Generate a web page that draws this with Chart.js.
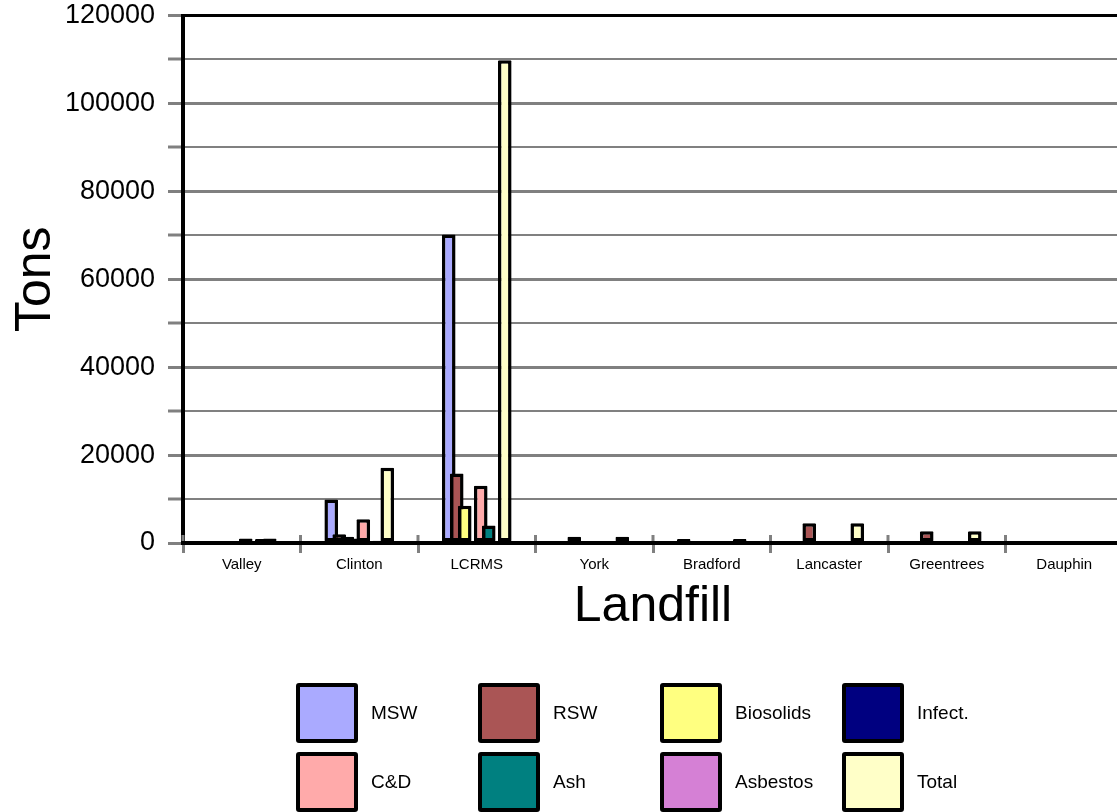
<!DOCTYPE html>
<html>
<head>
  <title>Landfill Tons</title>
  <script src="https://cdn.jsdelivr.net/npm/chart.js"></script>
  <style>
    body {
      margin: 0;
      background: #fff;
      overflow: hidden;
      width: 1117px;
      height: 812px;
      position: relative;
      font-family: 'Liberation Sans', Arial, sans-serif;
    }
    #wrap {
      position: absolute;
      left: 0;
      top: -11px;
      width: 1140px;
      height: 823px;
    }
    .legend-item {
      position: absolute;
      display: flex;
      align-items: center;
      font-size: 19px;
      color: #000;
    }
    .swatch {
      width: 54px;
      height: 52px;
      border: 4px solid #000;
      border-radius: 3px;
      margin-right: 13px;
    }
  </style>
</head>
<body>
<div id="wrap">
  <canvas id="chart" width="1140" height="823"></canvas>
</div>
<div id="legend"></div>
<script>
  // ==== Data ====
  const landfills = ['Valley', 'Clinton', 'LCRMS', 'York', 'Bradford', 'Lancaster', 'Greentrees', 'Dauphin'];
  const msw       = [300, 9900, 70200, 300, 900, 200, 200, 200];
  const rsw       = [200, 2000, 15800, 1400, 200, 4500, 2700, 200];
  const biosolids = [200, 1400, 8500, 200, 200, 200, 200, 200];
  const infect    = [300, 1000, 300, 200, 200, 200, 200, 200];
  const cd        = [1000, 5400, 13000, 200, 200, 200, 200, 200];
  const ash       = [200, 400, 4000, 200, 200, 200, 200, 200];
  const asbestos  = [900, 500, 300, 200, 200, 200, 200, 200];
  const total     = [1000, 17100, 109800, 1400, 900, 4500, 2700, 300];

  const seriesNames  = ['MSW', 'RSW', 'Biosolids', 'Infect.', 'C&D', 'Ash', 'Asbestos', 'Total'];
  const seriesData   = [msw, rsw, biosolids, infect, cd, ash, asbestos, total];
  const seriesColors = ['#AAAAFF', '#AA5555', '#FFFF80', '#000080', '#FFAAAA', '#008080', '#D580D5', '#FFFFC8'];

  const yMax = 120000;
  const yStep = 10000;

  const fontFamily = "'Liberation Sans', Arial, sans-serif";

  // later series painted over earlier ones (Excel style overlap)
  const drawForward = {
    id: 'drawForward',
    beforeDatasetsDraw(chart) {
      chart.getSortedVisibleDatasetMetas().forEach(m => m.controller.draw());
      return false;
    }
  };

  // category divider ticks also poke a little above the axis line
  const upperTicks = {
    id: 'upperTicks',
    afterDraw(chart) {
      const x = chart.scales.x, ctx = chart.ctx;
      const half = (x.getPixelForTick(1) - x.getPixelForTick(0)) / 2;
      ctx.save();
      ctx.strokeStyle = '#808080';
      ctx.lineWidth = 3;
      ctx.beginPath();
      for (let i = 0; i <= landfills.length; i++) {
        const px = x.getPixelForTick(0) - half + i * half * 2;
        ctx.moveTo(px, x.top - 8);
        ctx.lineTo(px, x.top - 2);
      }
      ctx.stroke();
      ctx.restore();
    }
  };

  new Chart(document.getElementById('chart'), {
    type: 'bar',
    data: {
      labels: landfills,
      datasets: seriesNames.map((name, i) => ({
        label: name,
        data: seriesData[i],
        backgroundColor: seriesColors[i],
        borderColor: '#000',
        borderWidth: 3.5,
        borderSkipped: false,
        borderRadius: 1,
        categoryPercentage: 0.545,
        barPercentage: 1.7
      }))
    },
    options: {
      responsive: false,
      animation: false,
      layout: { padding: { left: 6, top: 4, right: 17, bottom: 175 } },
      plugins: {
        legend: { display: false },
        tooltip: { enabled: false }
      },
      scales: {
        x: {
          z: 1,
          offset: true,
          afterFit(scale) { scale.height = 94; },
          grid: {
            offset: true,
            drawOnChartArea: false,
            drawTicks: true,
            tickLength: 10,
            color: '#808080',
            lineWidth: 3
          },
          border: { color: '#000', width: 4 },
          ticks: {
            color: '#000',
            padding: 3,
            font: { size: 15, family: fontFamily }
          },
          title: {
            display: true,
            text: 'Landfill',
            color: '#000',
            padding: { top: 4, bottom: 0 },
            font: { size: 50, family: fontFamily }
          }
        },
        y: {
          min: 0,
          max: yMax,
          afterFit(scale) { scale.width = 177; },
          grid: {
            color: ctx => (ctx.tick && ctx.tick.value === yMax) ? '#000' : '#808080',
            lineWidth: ctx => (ctx.tick && ctx.tick.value % 20000 === 0) ? 3 : 2,
            tickColor: '#808080',
            tickWidth: 3,
            tickLength: 15
          },
          border: { color: '#000', width: 4 },
          ticks: {
            stepSize: yStep,
            autoSkip: false,
            color: '#000',
            padding: 13,
            font: { size: 27, family: fontFamily, lineHeight: 1 },
            callback: v => (v % 20000 === 0 ? v : '')
          },
          title: {
            display: true,
            text: 'Tons',
            color: '#000',
            padding: 0,
            font: { size: 50, family: fontFamily }
          }
        }
      }
    },
    plugins: [drawForward, upperTicks]
  });

  // ==== Legend (4 columns x 2 rows) ====
  const legend = document.getElementById('legend');
  seriesNames.forEach((name, i) => {
    const col = i % 4, row = Math.floor(i / 4);
    const item = document.createElement('div');
    item.className = 'legend-item';
    item.style.left = (296 + col * 182) + 'px';
    item.style.top = (683 + row * 69) + 'px';
    const sw = document.createElement('div');
    sw.className = 'swatch';
    sw.style.background = seriesColors[i];
    const txt = document.createElement('span');
    txt.textContent = name;
    item.appendChild(sw);
    item.appendChild(txt);
    legend.appendChild(item);
  });
</script>
</body>
</html>
